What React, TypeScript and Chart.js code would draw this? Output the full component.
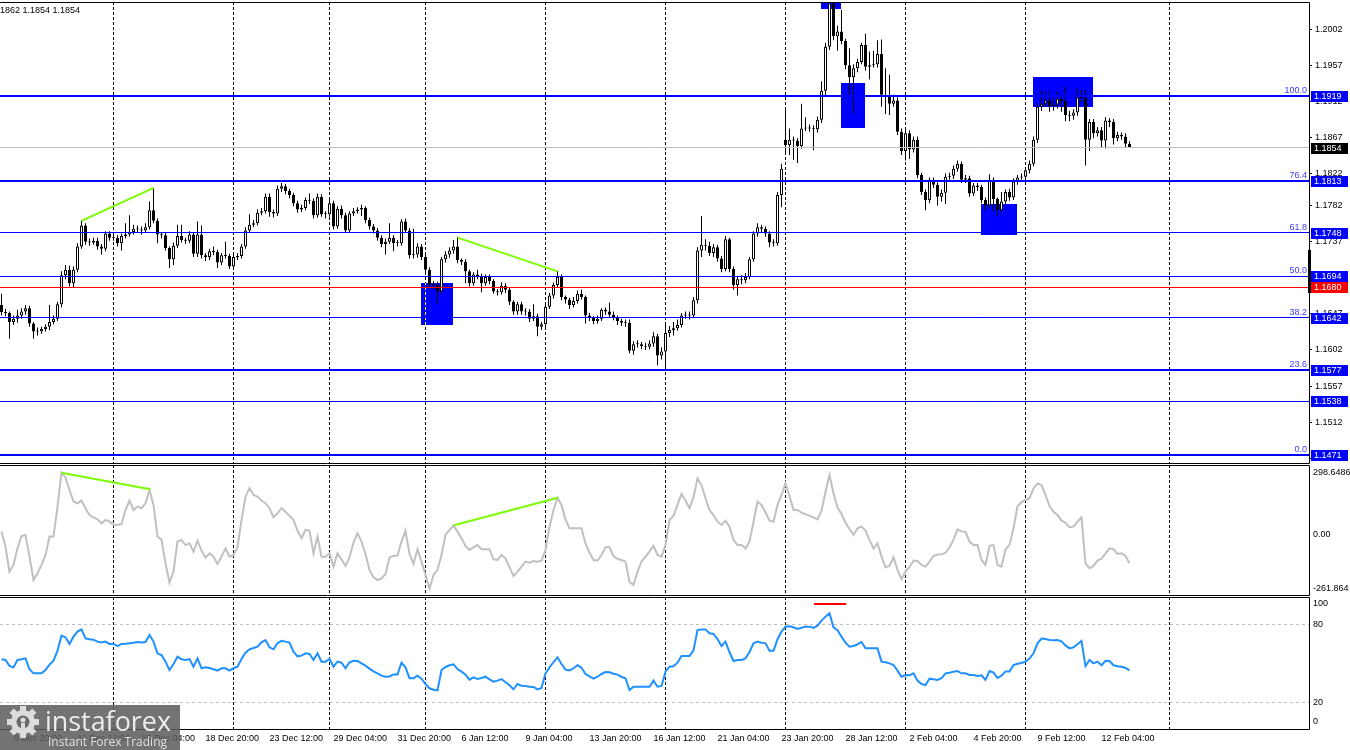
import React, { useEffect, useRef } from "react";
import { Chart, registerables } from "chart.js";

Chart.register(...registerables);

// ---------------- DATA (EURUSD H4) ----------------
const opens = [
  1.1658,1.1649,1.1648,1.1637,1.1641,1.1645,1.1650,1.1654,1.1635,1.1625,
  1.1625,1.1628,1.1631,1.1637,1.1641,1.1659,1.1695,1.1702,1.1685,1.1702,
  1.1731,1.1757,1.1737,1.1736,1.1738,1.1731,1.1728,1.1747,1.1742,1.1742,
  1.1735,1.1744,1.1746,1.1749,1.1753,1.1752,1.1751,1.1755,1.1776,1.1763,
  1.1746,1.1745,1.1729,1.1715,1.1732,1.1744,1.1739,1.1738,1.1746,1.1722,
  1.1746,1.1720,1.1718,1.1725,1.1724,1.1711,1.1720,1.1719,1.1706,1.1718,
  1.1719,1.1731,1.1751,1.1758,1.1760,1.1773,1.1775,1.1793,1.1774,1.1772,
  1.1803,1.1806,1.1800,1.1795,1.1785,1.1777,1.1779,1.1789,1.1788,1.1770,
  1.1793,1.1771,1.1771,1.1785,1.1756,1.1778,1.1770,1.1751,1.1772,1.1775,
  1.1777,1.1779,1.1764,1.1756,1.1751,1.1742,1.1734,1.1737,1.1742,1.1735,
  1.1735,1.1762,1.1751,1.1720,1.1721,1.1731,1.1718,1.1702,1.1683,1.1683,
  1.1675,1.1715,1.1721,1.1726,1.1731,1.1714,1.1712,1.1700,1.1685,1.1696,
  1.1694,1.1685,1.1693,1.1688,1.1675,1.1674,1.1682,1.1677,1.1662,1.1650,
  1.1659,1.1650,1.1650,1.1641,1.1644,1.1631,1.1634,1.1656,1.1670,1.1683,
  1.1693,1.1668,1.1665,1.1658,1.1663,1.1672,1.1668,1.1645,1.1642,1.1638,
  1.1641,1.1652,1.1650,1.1646,1.1643,1.1638,1.1636,1.1636,1.1601,1.1609,
  1.1609,1.1607,1.1606,1.1610,1.1619,1.1595,1.1600,1.1623,1.1627,1.1629,
  1.1633,1.1645,1.1646,1.1645,1.1664,1.1726,1.1733,1.1732,1.1723,1.1730,
  1.1716,1.1703,1.1740,1.1703,1.1683,1.1690,1.1689,1.1693,1.1715,1.1747,
  1.1755,1.1753,1.1747,1.1736,1.1735,1.1795,1.1864,1.1857,1.1864,1.1863,
  1.1856,1.1878,1.1879,1.1878,1.1877,1.1889,1.1925,1.1980,1.2034,1.1993,
  1.1999,1.1987,1.1957,1.1942,1.1953,1.1961,1.1982,1.1955,1.1957,1.1958,
  1.1971,1.1920,1.1918,1.1909,1.1913,1.1874,1.1850,1.1872,1.1852,1.1864,
  1.1820,1.1799,1.1789,1.1814,1.1808,1.1793,1.1798,1.1818,1.1819,1.1828,
  1.1834,1.1814,1.1816,1.1797,1.1807,1.1805,1.1789,1.1782,1.1814,1.1790,
  1.1776,1.1787,1.1799,1.1792,1.1812,1.1817,1.1818,1.1826,1.1834,1.1864,
  1.1905,1.1909,1.1913,1.1906,1.1908,1.1915,1.1912,1.1895,1.1894,1.1898,
  1.1917,1.1916,1.1864,1.1886,1.1872,1.1876,1.1863,1.1888,1.1886,1.1866,
  1.1870,1.1868,1.1859,
];

const highs = [
  1.1672,1.1653,1.1650,1.1645,1.1652,1.1654,1.1658,1.1657,1.1637,1.1630,
  1.1631,1.1634,1.1658,1.1645,1.1662,1.1700,1.1708,1.1707,1.1706,1.1735,
  1.1763,1.1760,1.1741,1.1742,1.1742,1.1734,1.1750,1.1750,1.1746,1.1745,
  1.1747,1.1760,1.1770,1.1758,1.1757,1.1756,1.1760,1.1787,1.1804,1.1766,
  1.1749,1.1748,1.1731,1.1736,1.1758,1.1758,1.1742,1.1750,1.1749,1.1762,
  1.1757,1.1723,1.1728,1.1731,1.1727,1.1723,1.1737,1.1722,1.1722,1.1723,
  1.1734,1.1755,1.1771,1.1764,1.1777,1.1779,1.1797,1.1797,1.1777,1.1807,
  1.1810,1.1809,1.1803,1.1798,1.1788,1.1783,1.1792,1.1797,1.1791,1.1797,
  1.1796,1.1775,1.1789,1.1788,1.1781,1.1782,1.1773,1.1775,1.1779,1.1780,
  1.1783,1.1781,1.1767,1.1759,1.1754,1.1745,1.1741,1.1760,1.1745,1.1739,
  1.1765,1.1766,1.1754,1.1753,1.1735,1.1734,1.1721,1.1705,1.1688,1.1687,
  1.1718,1.1725,1.1730,1.1739,1.1743,1.1716,1.1715,1.1702,1.1699,1.1702,
  1.1697,1.1696,1.1696,1.1690,1.1678,1.1686,1.1685,1.1680,1.1664,1.1662,
  1.1662,1.1654,1.1653,1.1659,1.1647,1.1637,1.1660,1.1673,1.1686,1.1700,
  1.1696,1.1670,1.1667,1.1668,1.1676,1.1677,1.1670,1.1648,1.1644,1.1645,
  1.1654,1.1655,1.1661,1.1650,1.1645,1.1641,1.1640,1.1640,1.1613,1.1614,
  1.1612,1.1611,1.1614,1.1624,1.1622,1.1605,1.1637,1.1632,1.1637,1.1640,
  1.1648,1.1650,1.1650,1.1668,1.1730,1.1769,1.1740,1.1737,1.1734,1.1733,
  1.1719,1.1744,1.1742,1.1706,1.1694,1.1695,1.1698,1.1718,1.1750,1.1760,
  1.1758,1.1756,1.1750,1.1740,1.1799,1.1834,1.1901,1.1878,1.1868,1.1866,
  1.1909,1.1892,1.1883,1.1882,1.1893,1.1937,1.1985,1.2045,1.2045,1.2006,
  1.2026,1.1990,1.1978,1.1958,1.1965,1.1985,1.1996,1.1974,1.1975,1.1988,
  1.1989,1.1953,1.1945,1.1920,1.1917,1.1878,1.1876,1.1876,1.1868,1.1868,
  1.1823,1.1802,1.1817,1.1817,1.1811,1.1802,1.1822,1.1823,1.1832,1.1838,
  1.1837,1.1820,1.1819,1.1810,1.1810,1.1808,1.1792,1.1821,1.1817,1.1792,
  1.1799,1.1802,1.1803,1.1816,1.1820,1.1822,1.1830,1.1838,1.1868,1.1909,
  1.1925,1.1924,1.1924,1.1916,1.1924,1.1918,1.1930,1.1900,1.1902,1.1928,
  1.1926,1.1926,1.1890,1.1890,1.1880,1.1880,1.1892,1.1891,1.1890,1.1874,
  1.1873,1.1872,1.1862,
];

const lows = [
  1.1645,1.1644,1.1616,1.1633,1.1636,1.1641,1.1646,1.1631,1.1616,1.1620,
  1.1622,1.1625,1.1627,1.1634,1.1638,1.1655,1.1690,1.1681,1.1680,1.1699,
  1.1728,1.1733,1.1732,1.1733,1.1727,1.1721,1.1725,1.1738,1.1738,1.1731,
  1.1726,1.1741,1.1743,1.1746,1.1749,1.1746,1.1748,1.1752,1.1760,1.1735,
  1.1741,1.1726,1.1704,1.1708,1.1729,1.1736,1.1734,1.1735,1.1718,1.1718,
  1.1716,1.1713,1.1714,1.1720,1.1704,1.1708,1.1716,1.1703,1.1704,1.1714,
  1.1716,1.1728,1.1748,1.1755,1.1757,1.1770,1.1772,1.1768,1.1767,1.1769,
  1.1799,1.1796,1.1791,1.1781,1.1773,1.1774,1.1776,1.1784,1.1766,1.1767,
  1.1768,1.1766,1.1768,1.1752,1.1753,1.1766,1.1748,1.1748,1.1769,1.1772,
  1.1769,1.1760,1.1752,1.1747,1.1738,1.1730,1.1721,1.1734,1.1725,1.1731,
  1.1732,1.1748,1.1716,1.1716,1.1717,1.1714,1.1698,1.1679,1.1678,1.1660,
  1.1672,1.1711,1.1717,1.1722,1.1710,1.1708,1.1685,1.1681,1.1682,1.1690,
  1.1674,1.1682,1.1684,1.1672,1.1670,1.1671,1.1673,1.1658,1.1646,1.1646,
  1.1646,1.1645,1.1637,1.1638,1.1619,1.1627,1.1627,1.1653,1.1666,1.1680,
  1.1664,1.1660,1.1653,1.1655,1.1660,1.1665,1.1635,1.1638,1.1634,1.1635,
  1.1638,1.1646,1.1642,1.1639,1.1633,1.1632,1.1631,1.1598,1.1596,1.1605,
  1.1603,1.1602,1.1603,1.1606,1.1583,1.1590,1.1579,1.1618,1.1620,1.1626,
  1.1630,1.1641,1.1640,1.1642,1.1660,1.1718,1.1726,1.1719,1.1718,1.1712,
  1.1699,1.1700,1.1699,1.1677,1.1670,1.1684,1.1685,1.1690,1.1712,1.1743,
  1.1748,1.1743,1.1730,1.1731,1.1732,1.1780,1.1845,1.1845,1.1839,1.1835,
  1.1853,1.1875,1.1874,1.1851,1.1873,1.1885,1.1918,1.1976,1.1988,1.1975,
  1.1983,1.1952,1.1920,1.1897,1.1948,1.1958,1.1950,1.1939,1.1954,1.1954,
  1.1905,1.1896,1.1895,1.1905,1.1870,1.1845,1.1838,1.1840,1.1848,1.1816,
  1.1795,1.1776,1.1785,1.1804,1.1782,1.1787,1.1784,1.1814,1.1815,1.1824,
  1.1810,1.1810,1.1793,1.1794,1.1800,1.1785,1.1776,1.1779,1.1775,1.1769,
  1.1773,1.1784,1.1788,1.1789,1.1808,1.1814,1.1815,1.1822,1.1831,1.1860,
  1.1900,1.1905,1.1899,1.1900,1.1903,1.1899,1.1887,1.1887,1.1889,1.1894,
  1.1911,1.1832,1.1850,1.1866,1.1868,1.1855,1.1853,1.1880,1.1858,1.1862,
  1.1864,1.1855,1.1854,
];

const closes = [
  1.1649,1.1648,1.1637,1.1641,1.1645,1.1650,1.1654,1.1635,1.1625,1.1625,
  1.1628,1.1631,1.1637,1.1641,1.1659,1.1695,1.1702,1.1685,1.1702,1.1731,
  1.1757,1.1737,1.1736,1.1738,1.1731,1.1728,1.1747,1.1742,1.1742,1.1735,
  1.1744,1.1746,1.1749,1.1753,1.1752,1.1751,1.1755,1.1776,1.1763,1.1746,
  1.1745,1.1729,1.1715,1.1732,1.1744,1.1739,1.1738,1.1746,1.1722,1.1746,
  1.1720,1.1718,1.1725,1.1724,1.1711,1.1720,1.1719,1.1706,1.1718,1.1719,
  1.1731,1.1751,1.1758,1.1760,1.1773,1.1775,1.1793,1.1774,1.1772,1.1803,
  1.1806,1.1800,1.1795,1.1785,1.1777,1.1779,1.1789,1.1788,1.1770,1.1793,
  1.1771,1.1771,1.1785,1.1756,1.1778,1.1770,1.1751,1.1772,1.1775,1.1777,
  1.1779,1.1764,1.1756,1.1751,1.1742,1.1734,1.1737,1.1742,1.1735,1.1735,
  1.1762,1.1751,1.1720,1.1721,1.1731,1.1718,1.1702,1.1683,1.1683,1.1675,
  1.1715,1.1721,1.1726,1.1731,1.1714,1.1712,1.1700,1.1685,1.1696,1.1694,
  1.1685,1.1693,1.1688,1.1675,1.1674,1.1682,1.1677,1.1662,1.1650,1.1659,
  1.1650,1.1650,1.1641,1.1644,1.1631,1.1634,1.1656,1.1670,1.1683,1.1693,
  1.1668,1.1665,1.1658,1.1663,1.1672,1.1668,1.1645,1.1642,1.1638,1.1641,
  1.1652,1.1650,1.1646,1.1643,1.1638,1.1636,1.1636,1.1601,1.1609,1.1609,
  1.1607,1.1606,1.1610,1.1619,1.1595,1.1600,1.1623,1.1627,1.1629,1.1633,
  1.1645,1.1646,1.1645,1.1664,1.1726,1.1733,1.1732,1.1723,1.1730,1.1716,
  1.1703,1.1740,1.1703,1.1683,1.1690,1.1689,1.1693,1.1715,1.1747,1.1755,
  1.1753,1.1747,1.1736,1.1735,1.1795,1.1828,1.1857,1.1864,1.1863,1.1856,
  1.1878,1.1879,1.1878,1.1877,1.1889,1.1925,1.1980,1.2034,1.1993,1.1999,
  1.1987,1.1957,1.1942,1.1953,1.1961,1.1982,1.1955,1.1957,1.1958,1.1971,
  1.1920,1.1918,1.1909,1.1913,1.1874,1.1850,1.1872,1.1852,1.1864,1.1820,
  1.1799,1.1789,1.1814,1.1808,1.1793,1.1798,1.1818,1.1819,1.1828,1.1834,
  1.1814,1.1816,1.1797,1.1807,1.1805,1.1789,1.1782,1.1814,1.1790,1.1776,
  1.1787,1.1799,1.1792,1.1812,1.1817,1.1818,1.1826,1.1834,1.1864,1.1905,
  1.1909,1.1913,1.1906,1.1908,1.1915,1.1912,1.1895,1.1894,1.1898,1.1917,
  1.1916,1.1864,1.1886,1.1872,1.1876,1.1863,1.1888,1.1886,1.1866,1.1870,
  1.1868,1.1859,1.1854,
];

const cciValues = [
  14,-59,-179,-147,-67,-7,-2,-107,-220,-187,
  -147,-99,-10,-10,135,298.65,276,215,159,151,
  164,127,94,83,73,54,70,62,46,46,
  51,118,164,118,135,127,151,215,143,-10,
  -26,-139,-232,-179,-34,-26,-51,-42,-83,-30,
  -78,-112,-91,-107,-142,-107,-67,-107,-99,-62,
  70,183,223,191,183,164,151,127,83,102,
  127,110,90,70,19,-18,22,19,-91,-10,
  -107,-107,-91,-155,-91,-120,-152,-110,-39,6,
  -34,-94,-171,-207,-220,-212,-191,-110,-104,-102,
  -34,19,-94,-142,-71,-131,-195,-261.86,-195,-171,
  -99,-2,22,43,14,-18,-55,-75,-62,-51,
  -71,-71,-71,-120,-123,-99,-115,-158,-200,-179,
  -155,-131,-136,-128,-131,-126,-75,38,118,178,
  143,73,30,30,30,30,-43,-88,-123,-126,
  -99,-62,-62,-104,-117,-123,-131,-228,-244,-179,
  -131,-107,-83,-55,-99,-107,-51,70,90,143,
  196,164,127,180,271,239,175,118,94,62,
  46,67,38,-26,-51,-51,-67,-34,62,159,
  143,106,67,62,143,191,247,186,119,119,
  106,98,90,83,73,115,207,288,199,130,
  99,57,27,-2,30,38,19,-26,-68,-43,
  -107,-158,-152,-110,-171,-216,-179,-158,-126,-128,
  -147,-155,-131,-104,-97,-96,-88,-62,-26,25,
  15,14,-34,-51,-51,-123,-147,-55,-51,-147,
  -155,-71,-51,30,135,157,167,175,223,247,
  239,191,138,110,94,67,57,35,38,62,
  83,-139,-163,-152,-126,-117,-91,-67,-71,-94,
  -91,-104,-139,
];

const rsiValues = [
  53.1,52.6,48.0,46.9,52.6,53.1,53.8,45.4,42.3,42.3,
  42.3,44.9,49.0,52.0,59.8,71.3,70.0,64.9,70.5,74.4,
  76.1,69.2,68.5,68.2,66.7,66.1,66.7,64.9,64.9,63.3,
  64.9,65.1,65.4,65.9,66.4,66.1,66.4,71.8,66.7,57.7,
  56.4,51.3,44.9,49.5,55.1,53.1,52.6,53.3,47.4,53.8,
  46.2,46.9,46.4,45.4,44.4,46.2,46.2,44.4,46.2,47.4,
  53.3,58.2,60.8,61.8,62.8,66.1,67.9,62.3,60.8,65.4,
  67.4,66.7,65.9,59.0,55.4,55.9,57.7,57.2,52.6,57.7,
  51.3,51.3,53.3,47.4,51.3,50.5,46.2,50.8,52.0,51.8,
  50.0,48.2,45.9,43.8,42.3,40.5,39.7,39.9,41.5,41.5,
  50.5,46.9,38.5,38.5,40.5,38.2,34.1,30.8,29.7,29.2,
  44.9,47.2,48.5,49.2,45.6,43.6,41.3,37.4,39.2,37.9,
  38.7,39.7,37.7,35.9,36.7,37.9,35.4,33.1,30.0,34.1,
  32.8,32.6,32.0,31.8,30.0,31.0,42.3,46.9,51.0,54.6,
  49.5,45.1,44.6,46.2,48.5,46.7,41.8,40.0,38.2,39.7,
  41.8,43.3,43.1,42.0,41.3,39.5,38.5,29.5,32.0,32.0,
  32.0,32.0,32.0,36.7,32.0,32.6,43.6,47.4,47.7,50.5,
  55.6,55.6,55.6,60.0,75.6,76.1,76.1,73.1,72.6,68.7,
  63.3,66.7,58.5,51.8,52.6,52.6,53.8,58.7,65.4,66.7,
  65.9,65.4,59.7,59.7,68.5,74.4,78.2,78.5,77.7,76.4,
  77.4,78.2,78.2,77.2,79.0,82.8,85.9,88.5,77.7,75.4,
  70.5,65.9,62.8,63.3,64.6,66.4,61.5,61.5,61.5,61.5,
  51.3,50.8,50.0,48.7,44.4,39.7,41.0,40.8,42.3,36.7,
  34.1,33.3,38.2,37.7,37.2,38.5,42.3,42.8,43.6,44.1,
  42.3,42.3,41.0,41.0,40.3,40.8,37.2,44.1,42.8,38.7,
  40.5,43.8,43.8,48.7,49.7,50.3,51.3,53.6,57.7,65.4,
  69.0,68.7,67.9,67.7,67.9,66.9,63.8,61.5,62.3,64.6,
  67.2,47.9,52.6,50.0,51.3,48.5,52.0,51.8,48.5,47.7,
  47.4,46.4,44.6,
];

// price axis ticks
const priceTicks = [1.2002,1.1957,1.1912,1.1867,1.1822,1.1782,1.1737,1.1692,1.1647,1.1602,1.1557,1.1512,1.1467];
// horizontal levels
const levelPrices = [1.1919,1.1813,1.1748,1.1694,1.1680,1.1642,1.1577,1.1538,1.1471];
const levelFibText = ["100.0","76.4","61.8","50.0","","38.2","23.6","","0.0"];
const currentPrice = 1.1854;
const headerText = "1862 1.1854 1.1854";
// zones (bar index from/to, price from/to)
const zoneBars = [[104.9,112.9],[204.9,209.9],[209.9,215.9],[244.9,253.9],[257.9,272.9]];
const zonePrices = [[1.1633,1.1686],[1.2027,1.2050],[1.1879,1.1935],[1.1745,1.1784],[1.1905,1.1942]];
const axisMarkPrices = [1.1673,1.1726];
// divergence lines [bar, value]
const priceDivA = [[20,1.1763],[38,1.1804]];
const priceDivB = [[114,1.1742],[139,1.1700]];
const cciDivA = [[15,298.6],[37.2,218.5]];
const cciDivB = [[113.1,44.6],[139.1,177.8]];
const rsiMark = [[203.1,95.6],[211.2,95.6]];
const cciTicks = [298.6486,0,-261.864];
const cciTickText = ["298.6486","0.00","-261.864"];
const rsiTicks = [100,80,20,0];
const rsiLevels = [80,20];
// time axis
const separatorBars = [28,58,82,106,136,166,196,226,256,292];
const timeLabelBars = [3,19,35,51,67,83,99,115,131,147,163,179,195,211,227,243,259,275];
const timeLabels = ["8 Dec 20:00","11 Dec 12:00","16 Dec 04:00","18 Dec 20:00","23 Dec 12:00","29 Dec 04:00","31 Dec 20:00","6 Jan 12:00","9 Jan 04:00","13 Jan 20:00","16 Jan 12:00","21 Jan 04:00","23 Jan 20:00","28 Jan 12:00","2 Feb 04:00","4 Feb 20:00","9 Feb 12:00","12 Feb 04:00"];

// ---------------- LAYOUT / STYLE ----------------
const FONT = "'Liberation Sans', Arial, sans-serif";
const X_MIN = -0.375;
const X_MAX = 326.875;
const AXIS_W = 41;
const BLUE = "#0000ff";
const barIdx = closes.map((_, i) => i);

function strokeSeparators(chart: any, color: string) {
  const { ctx, chartArea, scales } = chart;
  ctx.strokeStyle = color;
  ctx.lineWidth = 1;
  ctx.setLineDash([3, 2]);
  for (const s of separatorBars) {
    const px = Math.floor(scales.x.getPixelForValue(s)) + 0.5;
    if (px > chartArea.right) continue;
    ctx.beginPath();
    ctx.moveTo(px, chartArea.top);
    ctx.lineTo(px, chartArea.bottom);
    ctx.stroke();
  }
}

function drawSeparators(chart: any) {
  chart.ctx.save();
  strokeSeparators(chart, "#000");
  chart.ctx.restore();
}

function drawFrame(chart: any) {
  const { ctx, chartArea } = chart;
  ctx.save();
  ctx.strokeStyle = "#000";
  ctx.lineWidth = 1;
  const t = Math.round(chartArea.top) + 0.5;
  const b = Math.round(chartArea.bottom) + 0.5;
  const r = Math.round(chartArea.right) + 0.5;
  ctx.beginPath();
  ctx.moveTo(0, t); ctx.lineTo(r, t);
  ctx.moveTo(0, b); ctx.lineTo(r, b);
  ctx.moveTo(r, t); ctx.lineTo(r, b);
  ctx.stroke();
  ctx.restore();
}

function zoneRects(chart: any) {
  const { scales } = chart;
  return zoneBars.map((bx, k) => {
    const x0 = Math.round(scales.x.getPixelForValue(bx[0]));
    const x1 = Math.round(scales.x.getPixelForValue(bx[1]));
    const y0 = Math.round(scales.y.getPixelForValue(zonePrices[k][1]));
    const y1 = Math.round(scales.y.getPixelForValue(zonePrices[k][0]));
    return [x0, y0, x1 - x0, y1 - y0];
  });
}

const mainPlugin = {
  id: "mainDecor",
  beforeDatasetsDraw(chart: any) {
    const { ctx, chartArea } = chart;
    const rects = zoneRects(chart);
    ctx.save();
    ctx.beginPath();
    ctx.rect(chartArea.left, chartArea.top, chartArea.right - chartArea.left, chartArea.bottom - chartArea.top);
    ctx.clip();
    ctx.fillStyle = BLUE;
    rects.forEach((r) => ctx.fillRect(r[0], r[1], r[2], r[3]));
    ctx.restore();
    drawSeparators(chart);
    // separators look yellow where they cross the filled zones
    rects.forEach((r) => {
      ctx.save();
      ctx.beginPath();
      ctx.rect(r[0], Math.max(r[1], chartArea.top), r[2], r[3]);
      ctx.clip();
      strokeSeparators(chart, "#ffff00");
      ctx.restore();
    });
  },
  afterDatasetsDraw(chart: any) {
    const { ctx, chartArea, scales } = chart;
    ctx.save();
    const cy = Math.floor(scales.y.getPixelForValue(currentPrice)) + 0.5;
    ctx.strokeStyle = "#c0c0c0";
    ctx.lineWidth = 1;
    ctx.beginPath(); ctx.moveTo(chartArea.left, cy); ctx.lineTo(chartArea.right, cy); ctx.stroke();
    levelPrices.forEach((p, k) => {
      const y = scales.y.getPixelForValue(p);
      const thick = k === 0 || k === 1 || k === 6 || k === 8;
      const red = k === 4;
      ctx.strokeStyle = red ? "#ff0000" : BLUE;
      ctx.lineWidth = thick ? 2 : 1;
      const yy = thick ? Math.round(y) : Math.floor(y) + 0.5;
      ctx.beginPath(); ctx.moveTo(chartArea.left, yy); ctx.lineTo(chartArea.right, yy); ctx.stroke();
    });
    ctx.restore();
  },
  afterDraw(chart: any) {
    const { ctx, chartArea, scales } = chart;
    drawFrame(chart);
    ctx.save();
    ctx.font = `9px ${FONT}`;
    ctx.fillStyle = "#000";
    ctx.textBaseline = "middle";
    ctx.textAlign = "left";
    ctx.fillText(headerText, 0, 11);
    ctx.fillStyle = "#3c3cff";
    ctx.textAlign = "right";
    ctx.textBaseline = "bottom";
    levelPrices.forEach((p, k) => {
      if (!levelFibText[k]) return;
      const y = scales.y.getPixelForValue(p);
      ctx.fillText(levelFibText[k], chartArea.right - 2, Math.round(y) - 1);
    });
    const sy0 = scales.y.getPixelForValue(axisMarkPrices[1]);
    const sy1 = scales.y.getPixelForValue(axisMarkPrices[0]);
    ctx.fillStyle = "#000";
    ctx.fillRect(chartArea.right - 1, Math.round(sy0), 3, Math.round(sy1 - sy0));
    ctx.textAlign = "left";
    ctx.textBaseline = "middle";
    const boxes: [number, string][] = levelPrices.map((p, k) => [p, k === 4 ? "#ff0000" : BLUE]);
    boxes.push([currentPrice, "#000"]);
    boxes.forEach(([p, col]) => {
      const y = Math.round(scales.y.getPixelForValue(p));
      ctx.fillStyle = col;
      ctx.fillRect(chartArea.right + 2, y - 5, 37, 11);
      ctx.fillStyle = "#fff";
      ctx.fillText(p.toFixed(4), chartArea.right + 5, y + 0.5);
    });
    ctx.restore();
  },
};

const cciPlugin = {
  id: "cciDecor",
  beforeDatasetsDraw(chart: any) { drawSeparators(chart); },
  afterDraw(chart: any) { drawFrame(chart); },
};

const rsiPlugin = {
  id: "rsiDecor",
  beforeDatasetsDraw(chart: any) {
    const { ctx, chartArea, scales } = chart;
    drawSeparators(chart);
    ctx.save();
    ctx.strokeStyle = "#c0c0c0";
    ctx.lineWidth = 1;
    ctx.setLineDash([3, 3]);
    for (const v of rsiLevels) {
      const y = Math.floor(scales.y.getPixelForValue(v)) + 0.5;
      ctx.beginPath(); ctx.moveTo(chartArea.left, y); ctx.lineTo(chartArea.right, y); ctx.stroke();
    }
    ctx.restore();
  },
  afterDraw(chart: any) {
    const { ctx, chartArea, scales } = chart;
    drawFrame(chart);
    ctx.save();
    ctx.font = `9px ${FONT}`;
    ctx.fillStyle = "#000";
    ctx.textAlign = "left";
    ctx.textBaseline = "middle";
    for (const v of rsiTicks) {
      let y = scales.y.getPixelForValue(v);
      y = Math.max(chartArea.top + 7, Math.min(chartArea.bottom - 7, y));
      ctx.fillText(String(v), chartArea.right + 4, y);
    }
    // watermark
    const top = 109;
    ctx.fillStyle = "rgba(92,92,92,0.86)";
    ctx.fillRect(0, top, 180, 45);
    ctx.save();
    ctx.translate(23, top + 17);
    ctx.fillStyle = "#dcdcdc";
    for (let k = 0; k < 8; k++) {
      ctx.rotate(Math.PI / 4);
      ctx.fillRect(-3, -16, 6, 6);
    }
    ctx.beginPath(); ctx.arc(0, 0, 12, 0, Math.PI * 2); ctx.fill();
    ctx.fillStyle = "#6a6a6a";
    ctx.beginPath(); ctx.arc(0, 0, 6.5, 0, Math.PI * 2); ctx.fill();
    ctx.fillStyle = "#dcdcdc";
    ctx.beginPath(); ctx.arc(0, -2, 2.5, 0, Math.PI * 2); ctx.fill();
    ctx.fillRect(-2, 1, 4, 9);
    ctx.restore();
    ctx.fillStyle = "#ececec";
    ctx.textBaseline = "alphabetic";
    ctx.font = `28px 'Open Sans', ${FONT}`;
    const w = ctx.measureText("instaforex").width;
    ctx.save();
    ctx.translate(45, top + 26);
    ctx.scale(126 / w, 1);
    ctx.fillText("instaforex", 0, 0);
    ctx.restore();
    ctx.font = `12px 'Open Sans', ${FONT}`;
    ctx.fillStyle = "#e0e0e0";
    ctx.fillText("Instant Forex Trading", 48, top + 41);
    ctx.restore();
  },
};

function hiddenX() {
  return { type: "linear", min: X_MIN, max: X_MAX, display: false, offset: false };
}

function rightAxisFit(s: any) {
  s.width = AXIS_W;
  s.paddingTop = 0;
  s.paddingBottom = 0;
}

function buildMain(): any {
  return {
    type: "bar",
    data: {
      datasets: [
        {
          type: "bar", label: "wicks",
          data: barIdx.map((i) => ({ x: i, y: [lows[i], highs[i]] })),
          backgroundColor: "#000", borderWidth: 0, barThickness: 1, grouped: false, inflateAmount: 0, order: 3,
        },
        {
          type: "bar", label: "bodies",
          data: barIdx.map((i) => ({ x: i, y: [opens[i], closes[i]] })),
          backgroundColor: barIdx.map((i) => (closes[i] > opens[i] ? "#ffffff" : "#000000")),
          borderColor: "#000", borderWidth: 1, borderSkipped: false, barThickness: 3, grouped: false,
          inflateAmount: 0, minBarLength: 1, order: 2,
        },
        {
          type: "line", data: priceDivA.map(([x, y]) => ({ x, y })),
          borderColor: "#7cfc00", borderWidth: 2, pointRadius: 0, order: 1,
        },
        {
          type: "line", data: priceDivB.map(([x, y]) => ({ x, y })),
          borderColor: "#7cfc00", borderWidth: 2, pointRadius: 0, order: 1,
        },
      ],
    },
    options: {
      responsive: false, animation: false, devicePixelRatio: 1, events: [],
      layout: { padding: { top: 2, bottom: 1, left: 0, right: 0 } },
      plugins: { legend: { display: false }, tooltip: { enabled: false } },
      scales: {
        x: hiddenX(),
        y: {
          type: "linear", position: "right", min: 1.14611, max: 1.20357,
          afterBuildTicks: (s: any) => { s.ticks = priceTicks.map((v) => ({ value: v })); },
          afterFit: rightAxisFit,
          ticks: { autoSkip: false, padding: 3, color: "#000", font: { family: FONT, size: 9 }, callback: (v: any) => Number(v).toFixed(4) },
          grid: { drawOnChartArea: false, drawTicks: true, tickLength: 3, color: "#000" },
          border: { display: false },
        },
      },
    },
    plugins: [mainPlugin],
  };
}

function buildCci(): any {
  return {
    type: "line",
    data: {
      datasets: [
        { data: barIdx.map((i) => ({ x: i, y: cciValues[i] })), borderColor: "#c0c0c0", borderWidth: 2, pointRadius: 0, order: 2 },
        { data: cciDivA.map(([x, y]) => ({ x, y })), borderColor: "#7cfc00", borderWidth: 2, pointRadius: 0, order: 1 },
        { data: cciDivB.map(([x, y]) => ({ x, y })), borderColor: "#7cfc00", borderWidth: 2, pointRadius: 0, order: 1 },
      ],
    },
    options: {
      responsive: false, animation: false, devicePixelRatio: 1, events: [],
      layout: { padding: { top: 1, bottom: 1, left: 0, right: 0 } },
      plugins: { legend: { display: false }, tooltip: { enabled: false } },
      scales: {
        x: hiddenX(),
        y: {
          type: "linear", position: "right", min: -292.3, max: 335.9,
          afterBuildTicks: (s: any) => { s.ticks = cciTicks.map((v) => ({ value: v })); },
          afterFit: rightAxisFit,
          ticks: { autoSkip: false, padding: 4, color: "#000", font: { family: FONT, size: 9 }, callback: (_v: any, idx: number) => cciTickText[idx] },
          grid: { drawOnChartArea: false, drawTicks: false },
          border: { display: false },
        },
      },
    },
    plugins: [cciPlugin],
  };
}

function buildRsi(): any {
  return {
    type: "line",
    data: {
      datasets: [
        { data: barIdx.map((i) => ({ x: i, y: rsiValues[i] })), borderColor: "#1e90ff", borderWidth: 2, pointRadius: 0, order: 2 },
        { data: rsiMark.map(([x, y]) => ({ x, y })), borderColor: "#ff0000", borderWidth: 2, pointRadius: 0, order: 1 },
      ],
    },
    options: {
      responsive: false, animation: false, devicePixelRatio: 1, events: [],
      layout: { padding: { top: 1, bottom: 0, left: 0, right: 0 } },
      plugins: { legend: { display: false }, tooltip: { enabled: false } },
      scales: {
        x: {
          type: "linear", min: X_MIN, max: X_MAX, offset: false,
          afterBuildTicks: (s: any) => { s.ticks = timeLabelBars.map((v) => ({ value: v })); },
          afterFit: (s: any) => { s.height = 21; s.paddingLeft = 0; s.paddingRight = 0; },
          ticks: {
            autoSkip: false, maxRotation: 0, minRotation: 0, align: "start", padding: 4,
            color: "#000", font: { family: FONT, size: 9 },
            callback: (_v: any, idx: number) => timeLabels[idx],
          },
          grid: { display: false, drawTicks: false },
          border: { display: false },
        },
        y: {
          type: "linear", position: "right", min: -0.5, max: 101,
          afterFit: rightAxisFit,
          ticks: { display: false },
          grid: { display: false, drawTicks: false },
          border: { display: false },
        },
      },
    },
    plugins: [rsiPlugin],
  };
}

export default function App() {
  const mainRef = useRef<HTMLCanvasElement>(null);
  const cciRef = useRef<HTMLCanvasElement>(null);
  const rsiRef = useRef<HTMLCanvasElement>(null);

  useEffect(() => {
    const charts = [
      new Chart(mainRef.current as HTMLCanvasElement, buildMain()),
      new Chart(cciRef.current as HTMLCanvasElement, buildCci()),
      new Chart(rsiRef.current as HTMLCanvasElement, buildRsi()),
    ];
    return () => charts.forEach((c) => c.destroy());
  }, []);

  return (
    <div style={{ position: "absolute", left: 0, top: 0, width: 1350, height: 750, background: "#fff", overflow: "hidden" }}>
      <canvas ref={mainRef} width={1350} height={464} style={{ position: "absolute", left: 0, top: 0 }} />
      <canvas ref={cciRef} width={1350} height={132} style={{ position: "absolute", left: 0, top: 464 }} />
      <canvas ref={rsiRef} width={1350} height={154} style={{ position: "absolute", left: 0, top: 596 }} />
    </div>
  );
}
